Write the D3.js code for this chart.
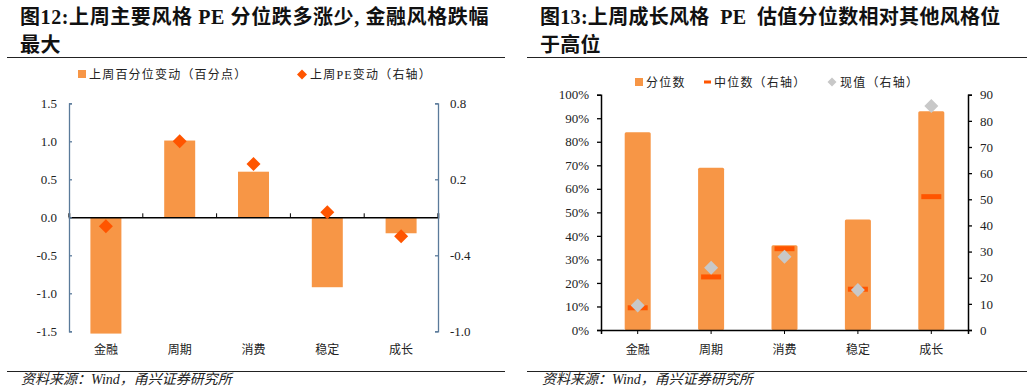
<!DOCTYPE html>
<html>
<head>
<meta charset="utf-8">
<script src="https://cdn.jsdelivr.net/npm/d3@7"></script>
<style>
  body { margin: 0; background: #fff; }
  svg text { font-family: "Liberation Serif", "Noto Sans CJK SC", serif; white-space: pre; }
  svg text.legend { letter-spacing: 1.2px; }
</style>
</head>
<body>
<svg id="chart" width="1032" height="388"></svg>
<script>
// shared categories
const categories = ['金融', '周期', '消费', '稳定', '成长']

// left chart: 上周百分位变动 (bars, left axis) and 上周PE变动 (diamonds, right axis)
const pctChange = [-1.53, 1.01, 0.6, -0.92, -0.21]
const peChange = [-0.17, 0.5, 0.32, -0.06, -0.25]
const leftTicks = [1.5, 1.0, 0.5, 0.0, -0.5, -1.0, -1.5]
const rightTicks = [0.8, 0.2, -0.4, -1.0]

// right chart: 分位数 (bars), 中位数 and 现值 (right axis)
const percentile = [0.84, 0.69, 0.36, 0.47, 0.93]
const median = [8.5, 20.3, 31.1, 15.6, 51]
const current = [9.4, 23.8, 28, 15.3, 85.7]
const pctTicks = [0, 0.1, 0.2, 0.3, 0.4, 0.5, 0.6, 0.7, 0.8, 0.9, 1.0]
const valTicks = [0, 10, 20, 30, 40, 50, 60, 70, 80, 90]

const barColor = '#f79646'
const redColor = '#ff5500'
const grayColor = '#c8c8c8'

const svg = d3.select('#chart')
const fmt1 = d => d3.format('.1f')(d).replace('−', '-')

function header (x0, x1, lines, srcX, spacing) {
  const g = svg.append('g')
  lines.forEach((t, i) => {
    g.append('text')
      .attr('x', x0 + 13).attr('y', 24 + i * 28)
      .attr('font-size', 20).attr('font-weight', 'bold')
      .attr('letter-spacing', spacing)
      .attr('fill', '#111')
      .text(t)
  })
  g.append('line').attr('x1', x0).attr('x2', x1).attr('y1', 57.5).attr('y2', 57.5)
    .attr('stroke', '#222').attr('stroke-width', 1.2)
  g.append('line').attr('x1', x0).attr('x2', x1).attr('y1', 371.5).attr('y2', 371.5)
    .attr('stroke', '#222').attr('stroke-width', 1.2)
  g.append('text')
    .attr('x', srcX).attr('y', 384)
    .attr('font-size', 14).attr('font-style', 'italic')
    .attr('fill', '#222')
    .text('资料来源：Wind，甬兴证券研究所')
}

function diamond (sel, size) {
  return sel.attr('d', `M0,${-size}L${size},0L0,${size}L${-size},0Z`)
}

// ---------------- left chart ----------------
header(7, 505, ['图12:上周主要风格 PE 分位跌多涨少, 金融风格跌幅', '最大'], 21, 0.6)

const L = {left: 69, right: 438, top: 103.3, bottom: 331.3}
const lx = d3.scaleBand().domain(categories).range([L.left, L.right]).paddingInner(0.58).paddingOuter(0.29)
const ly = d3.scaleLinear().domain([-1.5, 1.5]).range([L.bottom, L.top])
const ly2 = d3.scaleLinear().domain([-1.0, 0.8]).range([L.bottom, L.top])
const lBand = d3.scaleBand().domain(categories).range([L.left, L.right])

const lg = svg.append('g')
lg.selectAll('rect.bar').data(categories).join('rect')
  .attr('class', 'bar')
  .attr('x', d => lx(d))
  .attr('width', lx.bandwidth())
  .attr('y', (d, i) => Math.min(ly(0), ly(pctChange[i])))
  .attr('height', (d, i) => Math.abs(ly(pctChange[i]) - ly(0)))
  .attr('fill', barColor)

// zero line with category ticks pointing up
const lxAxis = lg.append('g')
  .attr('transform', `translate(0,${ly(0)})`)
  .call(d3.axisTop(lBand).tickSize(4).tickFormat(''))
lxAxis.selectAll('.tick line').attr('transform', d => `translate(${-lBand.bandwidth() / 2},0)`)
lxAxis.append('line').attr('x1', L.right).attr('x2', L.right).attr('y1', 0).attr('y2', -4).attr('stroke', '#000')
lxAxis.select('.domain').attr('stroke', '#000').attr('stroke-width', 1.5)

const axisColor = '#5a7a9a'
const lyAxis = lg.append('g')
  .attr('transform', `translate(${L.left},0)`)
  .call(d3.axisRight(ly).tickValues(leftTicks).tickSize(3).tickFormat(fmt1))
lyAxis.select('.domain').attr('stroke', axisColor).attr('stroke-width', 1.3)
lyAxis.selectAll('.tick line').attr('stroke', axisColor).attr('stroke-width', 1.3)
lyAxis.selectAll('.tick text').attr('x', -12).attr('text-anchor', 'end')
  .attr('font-size', 13).attr('fill', '#222')

const ly2Axis = lg.append('g')
  .attr('transform', `translate(${L.right},0)`)
  .call(d3.axisLeft(ly2).tickValues(rightTicks).tickSize(3).tickFormat(fmt1))
ly2Axis.select('.domain').attr('stroke', axisColor).attr('stroke-width', 1.3)
ly2Axis.selectAll('.tick line').attr('stroke', axisColor).attr('stroke-width', 1.3)
ly2Axis.selectAll('.tick text').attr('x', 12).attr('text-anchor', 'start')
  .attr('font-size', 13).attr('fill', '#222')

lg.selectAll('path.pe').data(categories).join('path')
  .attr('class', 'pe')
  .call(diamond, 7)
  .attr('transform', (d, i) => `translate(${lx(d) + lx.bandwidth() / 2},${ly2(peChange[i])})`)
  .attr('fill', redColor)

lg.selectAll('text.cat').data(categories).join('text')
  .attr('class', 'cat')
  .attr('x', d => lx(d) + lx.bandwidth() / 2)
  .attr('y', 354)
  .attr('text-anchor', 'middle')
  .attr('font-size', 12).attr('fill', '#222')
  .text(d => d)

// legend
lg.append('rect').attr('x', 78).attr('y', 70).attr('width', 8).attr('height', 8).attr('fill', barColor)
lg.append('text').attr('class', 'legend').attr('x', 89).attr('y', 79).attr('font-size', 12).attr('fill', '#222').text('上周百分位变动（百分点）')
lg.append('path').call(diamond, 5).attr('transform', 'translate(302,74.5)').attr('fill', redColor)
lg.append('text').attr('class', 'legend').attr('x', 310).attr('y', 79).attr('font-size', 12).attr('fill', '#222').text('上周PE变动（右轴）')

// ---------------- right chart ----------------
header(527, 1027, ['图13:上周成长风格  PE  估值分位数相对其他风格位', '于高位'], 542, 0.3)

const R = {left: 601, right: 968, top: 94.7, bottom: 330}
const ry = d3.scaleLinear().domain([0, 1]).range([R.bottom, R.top])
const ry2 = d3.scaleLinear().domain([0, 90]).range([R.bottom, R.top])
const rBand = d3.scaleBand().domain(categories).range([R.left, R.right])

const rg = svg.append('g')
rg.selectAll('rect.bar').data(categories).join('rect')
  .attr('class', 'bar')
  .attr('x', d => rBand(d) + rBand.bandwidth() / 2 - 13)
  .attr('width', 26)
  .attr('y', (d, i) => ry(percentile[i]))
  .attr('height', (d, i) => ry(0) - ry(percentile[i]))
  .attr('rx', 1.5)
  .attr('fill', barColor)

rg.selectAll('rect.med').data(categories).join('rect')
  .attr('class', 'med')
  .attr('x', d => rBand(d) + rBand.bandwidth() / 2 - 10)
  .attr('width', 20)
  .attr('y', (d, i) => ry2(median[i]) - 2.5)
  .attr('height', 5)
  .attr('fill', redColor)

rg.selectAll('path.cur').data(categories).join('path')
  .attr('class', 'cur')
  .call(diamond, 7)
  .attr('transform', (d, i) => `translate(${rBand(d) + rBand.bandwidth() / 2},${ry2(current[i])})`)
  .attr('fill', grayColor)

const rxAxis = rg.append('g')
  .attr('transform', `translate(0,${R.bottom})`)
  .call(d3.axisBottom(rBand).tickSize(4).tickFormat(''))
rxAxis.select('.domain').attr('stroke', '#000').attr('stroke-width', 1.5)
rxAxis.selectAll('.tick line').attr('stroke', '#000')

const ryAxis = rg.append('g')
  .attr('transform', `translate(${R.left},0)`)
  .call(d3.axisLeft(ry).tickValues(pctTicks).tickSize(4).tickFormat(d3.format('.0%')))
ryAxis.select('.domain').attr('stroke', '#000').attr('stroke-width', 1.5)
ryAxis.selectAll('.tick line').attr('stroke', '#000').attr('stroke-width', 1.3)
ryAxis.selectAll('.tick text').attr('x', -12).attr('font-size', 13).attr('fill', '#222')

const ry2Axis = rg.append('g')
  .attr('transform', `translate(${R.right},0)`)
  .call(d3.axisRight(ry2).tickValues(valTicks).tickSize(4))
ry2Axis.select('.domain').attr('stroke', '#000').attr('stroke-width', 1.5)
ry2Axis.selectAll('.tick line').attr('stroke', '#000').attr('stroke-width', 1.3)
ry2Axis.selectAll('.tick text').attr('x', 12).attr('font-size', 13).attr('fill', '#222')

rg.selectAll('text.cat').data(categories).join('text')
  .attr('class', 'cat')
  .attr('x', d => rBand(d) + rBand.bandwidth() / 2)
  .attr('y', 354)
  .attr('text-anchor', 'middle')
  .attr('font-size', 12).attr('fill', '#222')
  .text(d => d)

// legend
rg.append('rect').attr('x', 635).attr('y', 78).attr('width', 8).attr('height', 8).attr('fill', barColor)
rg.append('text').attr('class', 'legend').attr('x', 646).attr('y', 87).attr('font-size', 12).attr('fill', '#222').text('分位数')
rg.append('rect').attr('x', 704).attr('y', 80.5).attr('width', 7).attr('height', 3).attr('fill', redColor)
rg.append('text').attr('class', 'legend').attr('x', 714).attr('y', 87).attr('font-size', 12).attr('fill', '#222').text('中位数（右轴）')
rg.append('path').call(diamond, 4.5).attr('transform', 'translate(832,82)').attr('fill', grayColor)
rg.append('text').attr('class', 'legend').attr('x', 840).attr('y', 87).attr('font-size', 12).attr('fill', '#222').text('现值（右轴）')
</script>
</body>
</html>
